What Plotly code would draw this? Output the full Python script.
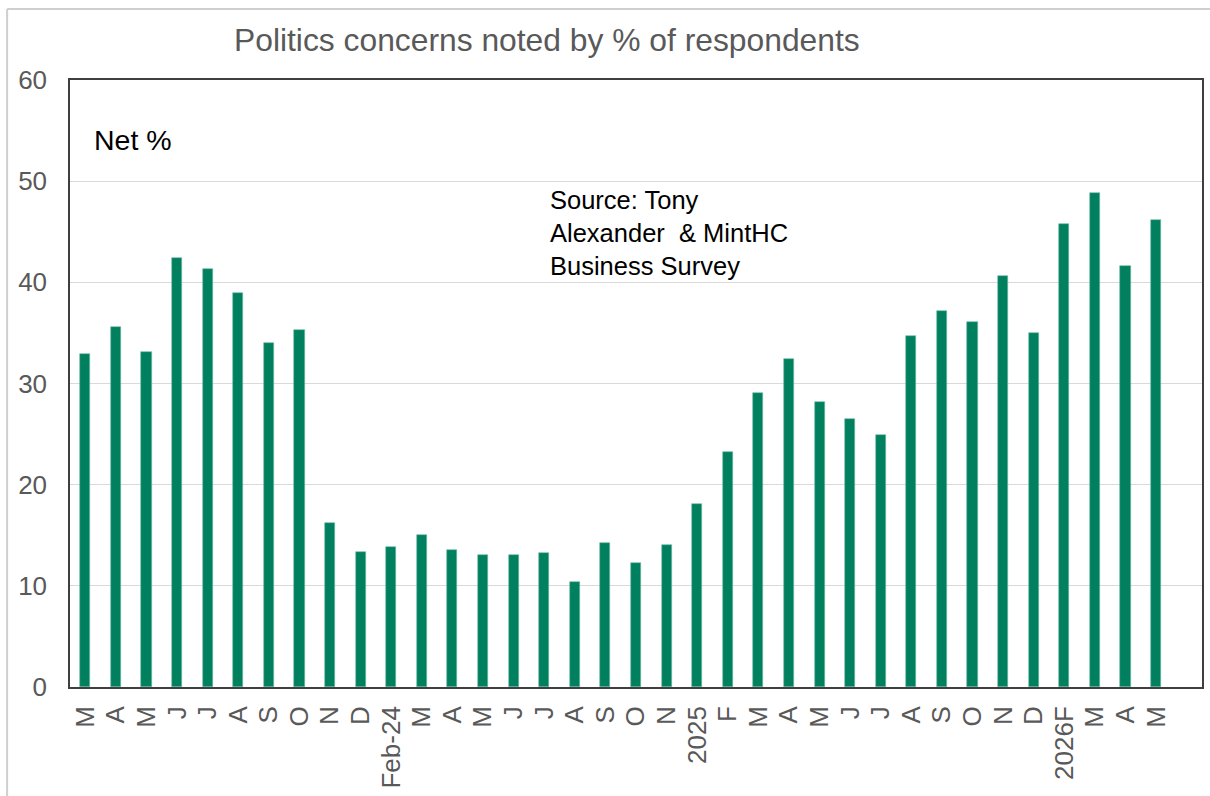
import plotly.graph_objects as go

# Monthly survey: share of respondents citing politics as a concern (net %)
months = ["M", "A", "M", "J", "J", "A", "S", "O", "N", "D", "Feb-24",
          "M", "A", "M", "J", "J", "A", "S", "O", "N", "2025",
          "F", "M", "A", "M", "J", "J", "A", "S", "O", "N", "D", "2026F",
          "M", "A", "M"]
net_pct = [32.9, 35.6, 33.1, 42.4, 41.3, 38.9, 34.0, 35.3, 16.2, 13.3, 13.8,
           15.0, 13.5, 13.0, 13.0, 13.2, 10.4, 14.2, 12.3, 14.0, 18.1,
           23.2, 29.1, 32.4, 28.2, 26.5, 24.9, 34.7, 37.2, 36.1, 40.6, 35.0, 45.8,
           48.8, 41.6, 46.2]
y_ticks = [0, 10, 20, 30, 40, 50, 60]

positions = list(range(len(months)))
n_slots = len(months) + 1  # one spare slot after the last month

W, H = 1210, 796
L, R, T, B = 70, 6, 80, 109
plot_w = W - L - R
plot_h = H - T - B


def px_x(p):
    return (p - L) / plot_w


def px_y(p):
    return (H - B - p) / plot_h


BAR = "#00805F"
GREY_TEXT = "#595959"
FONT = "Liberation Sans, Arial, sans-serif"

fig = go.Figure(
    go.Bar(
        x=positions,
        y=net_pct,
        width=0.33,
        marker=dict(color=BAR, line=dict(color="#6FB8A2", width=0.6)),
        hoverinfo="skip",
    )
)

fig.update_xaxes(
    range=[-0.5, n_slots - 0.5],
    tickmode="array",
    tickvals=positions,
    ticktext=months,
    tickangle=-90,
    tickfont=dict(family=FONT, size=26, color=GREY_TEXT),
    ticks="",
    ticklabelstandoff=7,
    showgrid=False,
    showline=True,
    linecolor="#3F3F3F",
    linewidth=1.5,
    mirror=True,
    zeroline=False,
)
fig.update_yaxes(
    range=[0, 60],
    tickmode="array",
    tickvals=y_ticks,
    ticktext=[str(v) for v in y_ticks],
    tickfont=dict(family=FONT, size=26, color=GREY_TEXT),
    ticks="",
    ticklabelstandoff=16,
    showgrid=True,
    gridcolor="#D9D9D9",
    gridwidth=1.3,
    showline=True,
    linecolor="#3F3F3F",
    linewidth=1.5,
    mirror=True,
    zeroline=False,
)

annotations = [
    dict(text="Politics concerns noted by % of respondents",
         x=px_x(232), y=px_y(40), xanchor="left", yanchor="middle",
         font=dict(family=FONT, size=31.8, color=GREY_TEXT)),
    dict(text="Net %",
         x=px_x(92), y=px_y(140), xanchor="left", yanchor="middle",
         font=dict(family=FONT, size=28.5, color="#000000")),
    dict(text="Source: Tony<br>Alexander  &amp; MintHC<br>Business Survey",
         x=px_x(549), y=px_y(233), xanchor="left", yanchor="middle", align="left",
         font=dict(family=FONT, size=25.5, color="#000000")),
]
for a in annotations:
    a.update(xref="paper", yref="paper", showarrow=False)

# light outer frame around the chart area
frame = dict(color="#CFCFCF", width=2)
shapes = [
    dict(type="line", xref="paper", yref="paper",
         x0=px_x(7), x1=px_x(7), y0=px_y(9), y1=px_y(H + 2), line=frame),
    dict(type="line", xref="paper", yref="paper",
         x0=px_x(7), x1=px_x(W + 2), y0=px_y(9), y1=px_y(9), line=frame),
]

fig.update_layout(
    width=W,
    height=H,
    margin=dict(l=L, r=R, t=T, b=B),
    paper_bgcolor="white",
    plot_bgcolor="white",
    showlegend=False,
    bargap=0,
    annotations=annotations,
    shapes=shapes,
)

fig.write_html("out.html")
